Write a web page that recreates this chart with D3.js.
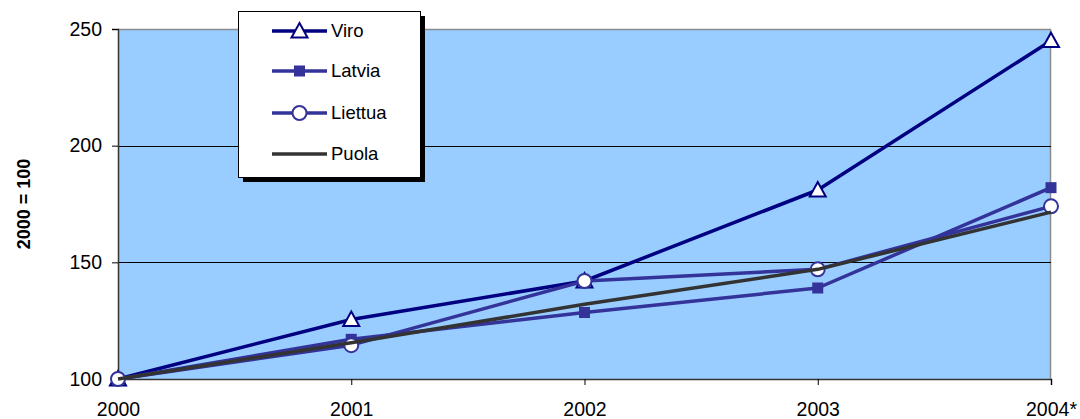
<!DOCTYPE html>
<html>
<head>
<meta charset="utf-8">
<script src="https://cdn.jsdelivr.net/npm/d3@7"></script>
<style>
  html, body { margin: 0; padding: 0; background: #ffffff; }
  svg { display: block; font-family: Arial, "Liberation Sans", sans-serif; }
</style>
</head>
<body>
<svg id="chart" width="1080" height="419"></svg>
<script>
// Index values, 2000 = 100
const years = ["2000", "2001", "2002", "2003", "2004*"];
const viro    = [100, 125.5, 142, 181, 245];
const latvia  = [100, 117, 128.5, 139, 182];
const liettua = [100, 114.5, 142, 147, 174];
const puola   = [100, 115.5, 132, 147, 171.5];
const yTicks  = [100, 150, 200, 250];
const seriesNames = ["Viro", "Latvia", "Liettua", "Puola"];

const series = [
  { name: seriesNames[0], values: viro,    color: "#000080", marker: "triangle" },
  { name: seriesNames[1], values: latvia,  color: "#333399", marker: "square" },
  { name: seriesNames[2], values: liettua, color: "#333399", marker: "circle" },
  { name: seriesNames[3], values: puola,   color: "#333333", marker: "none" }
];

const FONT = "Arial, 'Liberation Sans', sans-serif";
const svg = d3.select("#chart");
const plot = { left: 118, right: 1051, top: 29, bottom: 379 };

const x = d3.scalePoint().domain(years).range([plot.left, plot.right]);
const y = d3.scaleLinear().domain([100, 250]).range([plot.bottom, plot.top]);

// plot background
svg.append("rect")
  .attr("x", plot.left).attr("y", plot.top)
  .attr("width", plot.right - plot.left).attr("height", plot.bottom - plot.top)
  .attr("fill", "#99ccff");

// gray frame on top and right
svg.append("path")
  .attr("d", `M${plot.left},${plot.top + 0.5}H${plot.right - 0.5}V${plot.bottom}`)
  .attr("fill", "none").attr("stroke", "#8c8c8c").attr("stroke-width", 1.5);

// horizontal gridlines
svg.append("g")
  .selectAll("line")
  .data(yTicks.filter(d => d > 100 && d < 250))
  .join("line")
  .attr("x1", plot.left).attr("x2", plot.right)
  .attr("y1", d => Math.round(y(d)) + 0.5).attr("y2", d => Math.round(y(d)) + 0.5)
  .attr("stroke", "#000").attr("stroke-width", 1);

// y axis
const yAxis = svg.append("g")
  .attr("transform", `translate(${plot.left},0)`)
  .call(d3.axisLeft(y).tickValues(yTicks).tickSize(6).tickPadding(10).tickFormat(d3.format("d")));
yAxis.select(".domain").attr("stroke", "#333").attr("stroke-width", 1.5);
yAxis.selectAll(".tick line").attr("stroke", "#000");
yAxis.selectAll("text").attr("font-size", 19.5).attr("fill", "#000").attr("font-family", FONT);

// x axis
const xAxis = svg.append("g")
  .attr("transform", `translate(0,${plot.bottom})`)
  .call(d3.axisBottom(x).tickSize(6).tickPadding(17));
xAxis.select(".domain").attr("stroke", "#333").attr("stroke-width", 1.5);
xAxis.selectAll(".tick line").attr("stroke", "#000");
xAxis.selectAll("text").attr("font-size", 19.5).attr("fill", "#000").attr("font-family", FONT);

// y axis title
svg.append("text")
  .attr("transform", `translate(30,204) rotate(-90)`)
  .attr("text-anchor", "middle")
  .attr("font-size", 18).attr("font-weight", "bold")
  .text("2000 = 100");

// marker drawing helper
function drawMarker(g, type, color, cx, cy) {
  if (type === "triangle") {
    const s = 8;
    g.append("path")
      .attr("d", `M${cx},${cy - s}L${cx + s},${cy + s * 0.8}L${cx - s},${cy + s * 0.8}Z`)
      .attr("fill", "#fff").attr("stroke", color).attr("stroke-width", 2);
  } else if (type === "square") {
    g.append("rect")
      .attr("x", cx - 5.5).attr("y", cy - 5.5).attr("width", 11).attr("height", 11)
      .attr("fill", color);
  } else if (type === "circle") {
    g.append("circle")
      .attr("cx", cx).attr("cy", cy).attr("r", 7)
      .attr("fill", "#fff").attr("stroke", color).attr("stroke-width", 2);
  }
}

const line = d3.line().x((d, i) => x(years[i])).y(d => y(d));

series.forEach(s => {
  const g = svg.append("g");
  g.append("path")
    .attr("d", line(s.values))
    .attr("fill", "none").attr("stroke", s.color).attr("stroke-width", 3.5)
    .attr("stroke-linejoin", "round");
  s.values.forEach((v, i) => drawMarker(g, s.marker, s.color, x(years[i]), y(v)));
});

// legend with drop shadow
const lg = { x: 238, y: 11, w: 182, h: 166 };
svg.append("rect")
  .attr("x", lg.x + 5).attr("y", lg.y + 5).attr("width", lg.w).attr("height", lg.h)
  .attr("fill", "#000");
svg.append("rect")
  .attr("x", lg.x + 0.5).attr("y", lg.y + 0.5).attr("width", lg.w).attr("height", lg.h)
  .attr("fill", "#fff").attr("stroke", "#000").attr("stroke-width", 1);

const rowY = [31, 71, 113, 154];
series.forEach((s, i) => {
  const g = svg.append("g");
  const ry = rowY[i];
  g.append("line")
    .attr("x1", 272).attr("x2", 327).attr("y1", ry).attr("y2", ry)
    .attr("stroke", s.color).attr("stroke-width", 3.5);
  drawMarker(g, s.marker, s.color, 299.5, ry);
  g.append("text")
    .attr("x", 331).attr("y", ry).attr("dy", "0.35em")
    .attr("font-size", 18.5).attr("fill", "#000").attr("font-family", FONT)
    .text(s.name);
});
</script>
</body>
</html>
